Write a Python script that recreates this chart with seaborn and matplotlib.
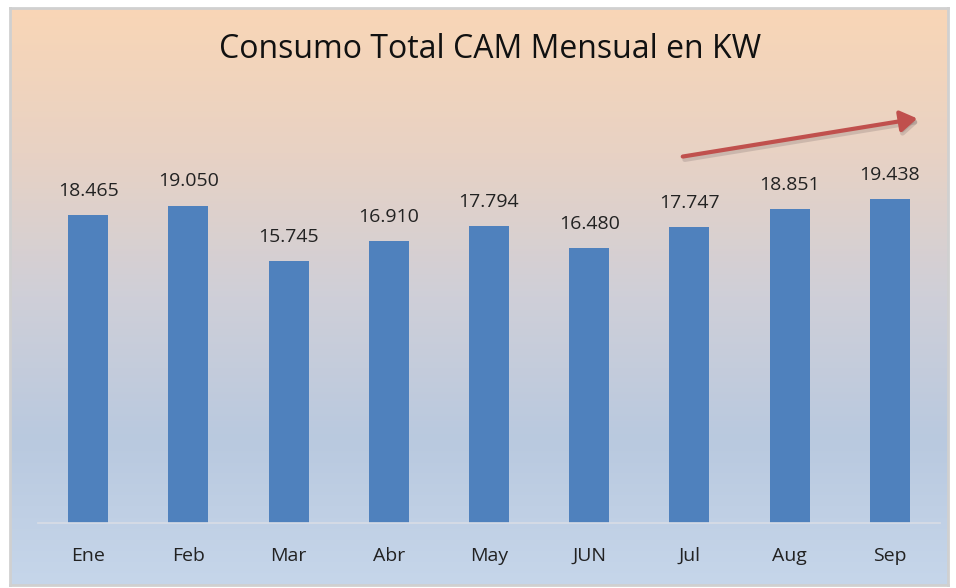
import numpy as np
import pandas as pd
import matplotlib.pyplot as plt
import seaborn as sns
from matplotlib.patches import FancyArrowPatch
from matplotlib.colors import LinearSegmentedColormap

sns.set_theme(style='white')
plt.rcParams['font.family'] = ['Open Sans', 'DejaVu Sans']

months = ['Ene', 'Feb', 'Mar', 'Abr', 'May', 'JUN', 'Jul', 'Aug', 'Sep']
consumo = [18465, 19050, 15745, 16910, 17794, 16480, 17747, 18851, 19438]
labels = ['18.465', '19.050', '15.745', '16.910', '17.794', '16.480', '17.747', '18.851', '19.438']

data = pd.DataFrame({'mes': months, 'kw': consumo})

W, H = 956, 588
fig = plt.figure(figsize=(W / 100, H / 100), dpi=100)
fig.patch.set_facecolor('white')

# fondo con degradado (durazno arriba, celeste abajo)
bg = fig.add_axes([10 / W, 3 / H, 938 / W, 577 / H])
grad = LinearSegmentedColormap.from_list('bg', ['#c6d6ea', '#b9c9df', '#cfcfd8', '#e8d2c4', '#f9d6b6'])
bg.imshow(np.linspace(0, 1, 256).reshape(-1, 1), aspect='auto', cmap=grad, origin='lower',
          extent=[0, 1, 0, 1])
bg.set_xlim(0, 1)
bg.set_ylim(0, 1)
bg.set_xticks([])
bg.set_yticks([])
for s in bg.spines.values():
    s.set_color('#d0d0d0')
    s.set_linewidth(2)

# grafico de barras
ax = fig.add_axes([38 / W, (H - 523) / H, 902 / W, 420 / H])
ax.patch.set_alpha(0)
sns.barplot(data, x='mes', y='kw', color='#4f81bd', saturation=1, width=0.4, linewidth=0, ax=ax)
ax.set_xlim(-0.5, 8.5)
ax.set_ylim(0, 25200)
ax.set_xlabel('')
ax.set_ylabel('')
ax.set_yticks([])
for side in ['top', 'right', 'left']:
    ax.spines[side].set_visible(False)
ax.spines['bottom'].set_color('#d9dde6')
ax.spines['bottom'].set_linewidth(1.2)
ax.tick_params(axis='x', length=0, pad=17, labelsize=14, labelcolor='#222222')

for i, (v, lab) in enumerate(zip(consumo, labels)):
    ax.text(i, v + 900, lab, ha='center', va='bottom', fontsize=14, color='#222222')

fig.text(490 / W, 1 - 50 / H, 'Consumo Total CAM Mensual en KW', ha='center', va='center',
         fontsize=23, color='#111111')

# flecha de tendencia
shadow = FancyArrowPatch((682 / W, 1 - 160 / H), (922 / W, 1 - 121 / H), transform=fig.transFigure,
                         arrowstyle='-|>,head_length=5,head_width=3.2', color='#8a7a78', alpha=0.3,
                         linewidth=3.5, mutation_scale=2)
fig.patches.append(shadow)
arrow = FancyArrowPatch((680 / W, 1 - 157 / H), (920 / W, 1 - 118 / H), transform=fig.transFigure,
                        arrowstyle='-|>,head_length=5,head_width=3.2', color='#c0504d',
                        linewidth=3, mutation_scale=2)
fig.patches.append(arrow)

fig.savefig('out.png', dpi=100)
